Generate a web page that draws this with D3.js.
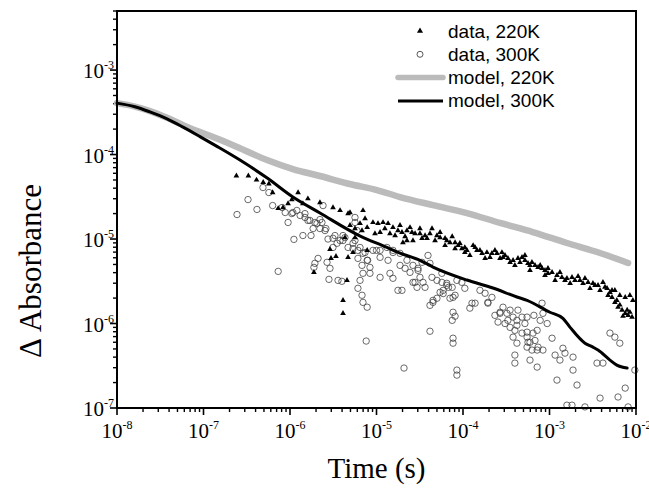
<!DOCTYPE html>
<html>
<head>
<meta charset="utf-8">
<script src="https://cdnjs.cloudflare.com/ajax/libs/d3/7.8.5/d3.min.js"></script>
<style>
  body { margin: 0; background: #fff; }
  svg { display: block; }
</style>
</head>
<body>
<svg id="chart" width="649" height="493"></svg>
<script>
// tick decades
var xTicks = [1e-8, 1e-7, 1e-6, 1e-5, 1e-4, 1e-3, 1e-2];
var yTicks = [1e-7, 1e-6, 1e-5, 1e-4, 1e-3];

// model curves [time, absorbance]
var model220 = [[1e-8,4.06e-4],[1.61e-8,3.7e-4],[2.41e-8,3.27e-4],[3.79e-8,2.72e-4],[5.8e-8,2.23e-4],
  [9.1e-8,1.85e-4],[1.43e-7,1.55e-4],[2.64e-7,1.19e-4],[5.42e-7,8.6e-5],[1.08e-6,6.73e-5],
  [2.22e-6,5.57e-5],[4.9e-6,4.48e-5],[1.01e-5,3.8e-5],[1.87e-5,3.14e-5],[4.5e-5,2.52e-5],
  [1.11e-4,2.03e-5],[2.68e-4,1.55e-5],[6.4e-4,1.21e-5],[1.59e-3,8.97e-6],[3.84e-3,6.83e-6],[8.1e-3,5.2e-6]];

var model300 = [[1e-8,4.06e-4],[1.61e-8,3.68e-4],[2.4e-8,3.2e-4],[3.79e-8,2.65e-4],[5.8e-8,2.11e-4],
  [9.1e-8,1.63e-4],[1.43e-7,1.25e-4],[2.64e-7,8.6e-5],[5.4e-7,5.3e-5],[1.08e-6,3.14e-5],
  [2.22e-6,2.03e-5],[6.4e-6,1.09e-5],[1.32e-5,7.95e-6],[1.87e-5,6.8e-6],[3.18e-5,5.6e-6],
  [4.5e-5,4.66e-6],[1.11e-4,3.27e-6],[2.22e-4,2.63e-6],[4.2e-4,2.06e-6],[5.5e-4,1.88e-6],
  [1.01e-3,1.36e-6],[1.43e-3,1.15e-6],[1.73e-3,9.0e-7],[2.57e-3,5.85e-7],[3.18e-3,5.25e-7],
  [3.64e-3,4.85e-7],[5.0e-3,3.69e-7],[6.0e-3,3.22e-7],[7.9e-3,2.97e-7]];

// measured points, 220K (triangles)
var data220 = [[2.4e-7,5.6e-5],[3.3e-7,5.6e-5],[4.1e-7,5.0e-5],[4.9e-7,4.7e-5],[5.7e-7,4.5e-5],[6.3e-7,3.55e-5],
  [8.3e-7,2.36e-5],[7.3e-7,2.3e-5],[9.5e-7,2.63e-5],[1.05e-6,2.93e-5],[1.24e-6,3.55e-5],[1.41e-6,2.63e-5],
  [1.61e-6,3.0e-5],[2.22e-6,2.7e-5],[3.14e-6,2.36e-5],[3.79e-6,2.18e-5],[4.69e-6,2.0e-5],[4.94e-6,2.06e-5],
  [6.98e-6,2.18e-5],[6.45e-6,1.53e-5],[6.8e-6,1.26e-5],[7.8e-6,1.37e-5],[9.1e-6,1.57e-5],[1.04e-5,1.53e-5],
  [1.19e-5,1.57e-5],[1.36e-5,1.53e-5],[1.55e-5,1.37e-5],[1.77e-5,1.26e-5],[1.97e-5,1.2e-5],[2.25e-5,1.26e-5],
  [2.44e-5,1.37e-5],[2.79e-5,1.16e-5],[3.18e-5,1.16e-5],[3.64e-5,1.1e-5],[4.15e-5,1.16e-5],[5.0e-5,1.1e-5],
  [5.43e-5,1.04e-5],[6.2e-5,1.02e-5],[7.07e-5,9.1e-6],[8.1e-5,9.1e-6],[9.2e-5,8.9e-6],[1.05e-4,7.95e-6],
  [2.02e-5,9.1e-6],[2.25e-5,9.6e-6],[2.64e-5,9.6e-6],[1.43e-5,1.16e-5],[9.6e-6,1.16e-5],[5.64e-6,1.04e-5],
  [5.35e-6,6.93e-6],[7.8e-6,7.34e-6],[4.56e-6,3.24e-6],[4.1e-6,1.88e-6],[4.1e-6,1.32e-6],[2.9e-6,7.54e-6],
  [3.4e-6,6.23e-6],[4.69e-6,6.07e-6],[1.89e-6,4.03e-6],[2.98e-6,5.9e-6],[4.32e-6,1.04e-5],
  [9.7e-5,7.7e-6],[1.11e-4,7.34e-6],[1.31e-4,8.4e-6],[1.45e-4,7.34e-6],[1.66e-4,6.77e-6],[1.89e-4,6.93e-6],
  [2.16e-4,6.77e-6],[2.47e-4,6.77e-6],[2.82e-4,6.93e-6],[2.9e-4,6.07e-6],[3.31e-4,5.9e-6],[3.79e-4,5.6e-6],
  [4.32e-4,5.9e-6],[4.81e-4,6.07e-6],[5.2e-4,5.6e-6],[5.64e-4,5.16e-6],[6.27e-4,5.3e-6],[6.8e-4,4.88e-6],
  [7.37e-4,4.62e-6],[8.2e-4,4.5e-6],[8.87e-4,4.26e-6],[9.6e-4,4.5e-6],[1.07e-3,4.03e-6],[1.22e-3,3.72e-6],
  [1.39e-3,3.52e-6],[1.59e-3,3.43e-6],[1.82e-3,3.52e-6],[1.97e-3,3.24e-6],[2.25e-3,3.24e-6],[2.57e-3,3.43e-6],
  [2.79e-3,3.07e-6],[3.18e-3,2.99e-6],[3.64e-3,2.83e-6],[4.15e-3,3.07e-6],[4.63e-3,2.61e-6],[5.0e-3,2.34e-6],
  [5.28e-3,2.04e-6],[5.7e-3,1.78e-6],[6.2e-3,1.56e-6],[6.9e-3,1.44e-6],[7.5e-3,1.32e-6],[8.1e-3,1.25e-6],
  [9.0e-3,1.19e-6],[6.5e-3,2.16e-6],[7.5e-3,2.04e-6],[8.5e-3,2.16e-6],[9.2e-3,1.88e-6],[1.2e-4,6.4e-6],
  [1.8e-4,5.9e-6],[2.68e-4,5.9e-6],[3.98e-4,4.88e-6],[5.95e-4,4.26e-6],[8.87e-4,3.72e-6],[1.16e-3,3.24e-6],
  [1.73e-3,2.99e-6],[2.94e-3,2.61e-6],[3.84e-3,2.47e-6],[5.7e-3,2.47e-6],[4.75e-3,2.16e-6],[1.64e-5,1.1e-5],
  [3.18e-5,1.33e-5],[4.75e-5,9.6e-6],[6.2e-5,8.4e-6],[8.1e-5,7.7e-6],[1.25e-5,1.33e-5],[1.87e-5,1.45e-5],
  [3.84e-5,1.02e-5],[5.43e-5,1.2e-5],
  [1.05e-4,6.93e-6],[1.38e-4,7.95e-6],[1.57e-4,7.34e-6],[2.05e-4,6.07e-6],[2.34e-4,7.34e-6],[3.06e-4,6.4e-6],
  [3.5e-4,5.3e-6],[4.56e-4,5.3e-6],[5.2e-4,6.4e-6],[5.95e-4,4.88e-6],[7.8e-4,4.88e-6],[9.6e-4,3.93e-6],
  [1.32e-3,4.03e-6],[1.51e-3,3.24e-6],[2.14e-3,3.62e-6],[2.44e-3,2.99e-6],[3.36e-3,2.83e-6],[4.38e-3,2.7e-6],
  [5.28e-3,2.47e-6],[6.0e-3,1.88e-6],[6.5e-3,1.66e-6],[7.9e-3,1.44e-6],[8.5e-3,1.36e-6],[7.07e-3,1.22e-6],
  [1.1e-5,1.2e-5],[2.14e-5,1.07e-5],[2.57e-5,1.2e-5],[3.36e-5,1.02e-5],[4.38e-5,1.33e-5],[6.5e-5,9.6e-6],
  [7.5e-5,1.07e-5],[8.8e-5,8.4e-6],[4.94e-6,1.45e-5],[5.64e-6,1.33e-5],[7.37e-6,1.75e-5]];

// measured points, 300K (open circles)
var data300 = [[2.44e-7,1.95e-5],[3.27e-7,2.93e-5],[4.15e-7,2.24e-5],[4.87e-7,4.07e-5],[5.7e-7,3.55e-5],
  [6.3e-7,2.49e-5],[8.1e-7,2.36e-5],[8.8e-7,2.06e-5],[9.5e-7,1.57e-5],[1.11e-6,9.9e-6],[1.05e-6,2.0e-5],
  [1.2e-6,2.18e-5],[1.31e-6,1.9e-5],[1.41e-6,1.1e-5],[1.49e-6,2.0e-5],[1.61e-6,1.66e-5],[1.75e-6,1.1e-5],
  [1.85e-6,1.33e-5],[2.05e-6,1.53e-5],[2.22e-6,1.7e-5],[2.41e-6,2.49e-5],[2.6e-6,1.33e-5],[2.22e-6,1.33e-5],
  [2.75e-6,1.0e-5],[3.14e-6,7.95e-6],[3.5e-6,8.9e-6],[3.79e-6,9.6e-6],[3.31e-6,1.1e-5],[4.1e-6,1.1e-5],
  [7.3e-7,4.14e-6],[1.94e-6,5.16e-6],[2.11e-6,5.9e-6],[1.89e-6,4.62e-6],[2.68e-6,5.3e-6],[2.9e-6,4.5e-6],
  [2.82e-6,3.33e-6],[3.59e-6,3.24e-6],[3.98e-6,3.16e-6],[2.34e-6,1.57e-5],[1.08e-6,2.06e-5],[1.49e-6,1.8e-5],
  [1.7e-6,1.66e-5],[1.94e-6,1.57e-5],[2.54e-6,1.26e-5],[3.14e-6,1.02e-5],[4.69e-6,7.95e-6],[5.35e-6,7.7e-6],
  [6.1e-6,7.34e-6],[6.98e-6,6.77e-6],[7.8e-6,5.6e-6],[8.4e-6,4.62e-6],[9.1e-6,7.34e-6],[1.1e-5,7.34e-6],
  [1.32e-5,7.95e-6],[1.55e-5,7.34e-6],[1.87e-5,6.77e-6],[2.25e-5,5.6e-6],[2.64e-5,4.88e-6],[3.02e-5,4.5e-6],
  [4.1e-6,9.6e-6],[5.35e-6,8.9e-6],[6.45e-6,7.95e-6],[7.37e-6,6.93e-6],[6.1e-6,5.9e-6],[6.8e-6,4.88e-6],
  [7.9e-6,5.6e-6],[6.98e-6,3.93e-6],[6.45e-6,3.24e-6],[6.1e-6,2.61e-6],[6.8e-6,2.16e-6],[6.98e-6,1.78e-6],
  [7.8e-6,1.56e-6],[1.0e-5,7.34e-6],[1.1e-5,6.07e-6],[1.36e-5,5.6e-6],[1.55e-5,6.93e-6],[1.87e-5,4.88e-6],
  [2.14e-5,4.5e-6],[2.44e-5,4.03e-6],[3.02e-5,4.26e-6],[3.36e-5,5.3e-6],[3.94e-5,6.4e-6],[4.15e-5,5.16e-6],
  [4.38e-5,3.52e-6],[5.0e-5,3.24e-6],[5.7e-5,3.93e-6],[6.5e-5,2.99e-6],[7.5e-5,2.68e-6],[8.1e-5,2.16e-6],
  [7.07e-5,1.99e-6],[5.43e-5,2.34e-6],[4.5e-5,1.78e-6],[4.15e-5,1.64e-6],[8.5e-5,3.24e-6],[9.7e-5,3.07e-6],
  [1.05e-4,2.61e-6],[2.64e-5,3.07e-6],[2.94e-5,2.68e-6],[1.77e-5,2.47e-6],[1.97e-5,2.47e-6],[1.1e-5,3.52e-6],
  [1.43e-5,3.93e-6],[1.55e-5,3.43e-6],[5.64e-6,9.6e-6],[5.95e-6,1.26e-5],[4.32e-6,1.04e-5],[5.64e-6,1.8e-5],
  [5.64e-6,1.57e-5],[7.6e-6,6.2e-7],[2.08e-5,2.97e-7],[4.15e-5,8.1e-7],[7.67e-5,1.36e-6],[8.1e-5,1.22e-6],
  [7.5e-5,1.09e-6],[7.67e-5,6.7e-7],[7.67e-5,5.85e-7],[8.5e-5,2.81e-7],[8.5e-5,2.45e-7],[5.0e-5,1.99e-6],
  [5.9e-5,2.47e-6],[6.5e-5,2.83e-6],[7.67e-5,2.04e-6],[8.4e-6,3.93e-6],[3.45e-5,3.07e-6],[2.79e-5,3.07e-6],
  [3.18e-5,3.52e-6],[3.64e-5,2.68e-6],[4.5e-5,1.88e-6],[5.7e-5,3.07e-6],[5.9e-5,2.26e-6],[6.8e-5,2.68e-6],
  [1.2e-4,1.52e-6],[1.27e-4,1.74e-6],[1.38e-4,1.74e-6],[1.57e-4,2.47e-6],[1.8e-4,2.28e-6],[1.94e-4,1.78e-6],
  [2.16e-4,2.04e-6],[2.34e-4,1.25e-6],[2.68e-4,1.36e-6],[2.9e-4,1.56e-6],[3.22e-4,1.32e-6],[3.5e-4,1.44e-6],
  [3.79e-4,1.19e-6],[4.2e-4,1.09e-6],[3.98e-4,8.3e-7],[4.32e-4,1.44e-6],[4.81e-4,1.19e-6],[5.2e-4,1.0e-6],
  [5.5e-4,7.9e-7],[5.64e-4,6.0e-7],[6.27e-4,4.85e-7],[3.98e-4,4.23e-7],[3.98e-4,3.4e-7],[5.95e-4,3.69e-7],
  [7.2e-4,3.05e-7],[7.2e-4,8.3e-7],[7.8e-4,1.09e-6],[8.4e-4,1.32e-6],[8.2e-4,1.74e-6],[9.4e-4,1.0e-6],
  [1.07e-3,6.7e-7],[1.22e-3,2.14e-7],[1.43e-3,5.1e-7],[1.51e-3,4.46e-7],[1.87e-3,4.0e-7],[1.87e-3,2.81e-7],
  [2.08e-3,1.87e-7],[3.54e-3,3.4e-7],[4.15e-3,3.4e-7],[3.84e-3,1.31e-7],[5.0e-3,7.7e-7],[5.7e-3,6.9e-7],
  [6.5e-3,5.85e-7],[6.2e-3,1.35e-7],[7.5e-3,1.72e-7],[8.1e-3,1.03e-7],[9.7e-3,2.81e-7],[1.59e-3,1.08e-7],
  [1.82e-3,1.08e-7],[2.57e-3,1.03e-7],[1.16e-3,4.23e-7],[1.32e-3,3.69e-7],[3.79e-4,6.9e-7],[4.2e-4,5.85e-7],
  [4.81e-4,7.7e-7],[5.5e-4,6.9e-7],[5.95e-4,6.0e-7],[6.45e-4,7.7e-7],[6.8e-4,6.3e-7],[7.37e-4,5.25e-7],
  [8.4e-4,4.85e-7],[5.5e-4,5.25e-7],[7.2e-4,4.85e-7],[4.2e-4,9.5e-7],[5.5e-4,1.19e-6],[6.6e-4,1.25e-6],
  [2.54e-4,1.04e-6],[3.06e-4,1.0e-6],[3.3e-4,1.09e-6],[3.5e-4,9.0e-7],[1.94e-4,1.74e-6],[2.68e-4,1.32e-6]];

var legendItems = ["data, 220K", "data, 300K", "model, 220K", "model, 300K"];

var margin = {left: 117, right: 13, top: 11, bottom: 85},
    width = 649 - margin.left - margin.right,
    height = 493 - margin.top - margin.bottom;

var svg = d3.select("#chart");
var g = svg.append("g").attr("transform", "translate(" + margin.left + "," + margin.top + ")");

var x = d3.scaleLog().domain([1e-8, 1e-2]).range([0, width]);
var y = d3.scaleLog().domain([1e-7, 5e-3]).range([height, 0]);

// minor ticks: 2..9 in every decade
function minorTicks(lo, hi) {
    var out = [];
    for (var e = Math.floor(Math.log10(lo)); e < Math.ceil(Math.log10(hi)); e++) {
        for (var m = 2; m <= 9; m++) {
            var v = m * Math.pow(10, e);
            if (v > lo && v <= hi * 1.0001) out.push(v);
        }
    }
    return out;
}

var serif = "'Liberation Serif', 'Times New Roman', serif";
var sans = "'Liberation Sans', Arial, sans-serif";

// x axis ticks
g.selectAll(".xminor").data(minorTicks(1e-8, 1e-2)).enter().append("line")
    .attr("x1", function(d) { return x(d); }).attr("x2", function(d) { return x(d); })
    .attr("y1", height).attr("y2", height + 4)
    .attr("stroke", "#000").attr("stroke-width", 1.4);
g.selectAll(".xmajor").data(xTicks).enter().append("line")
    .attr("x1", function(d) { return x(d); }).attr("x2", function(d) { return x(d); })
    .attr("y1", height).attr("y2", height + 7)
    .attr("stroke", "#000").attr("stroke-width", 1.6);

var xl = g.selectAll(".xlab").data(xTicks).enter().append("text")
    .attr("x", function(d) { return x(d); })
    .attr("y", height + 30)
    .attr("text-anchor", "middle")
    .style("font-family", serif).style("font-size", "21px");
xl.append("tspan").text("10");
xl.append("tspan").attr("dy", -9).style("font-size", "12px")
    .text(function(d) { return "-" + Math.round(-Math.log10(d)); });

// y axis ticks
g.selectAll(".yminor").data(minorTicks(1e-7, 5e-3)).enter().append("line")
    .attr("y1", function(d) { return y(d); }).attr("y2", function(d) { return y(d); })
    .attr("x1", 0).attr("x2", -4)
    .attr("stroke", "#000").attr("stroke-width", 1.4);
g.selectAll(".ymajor").data(yTicks).enter().append("line")
    .attr("y1", function(d) { return y(d); }).attr("y2", function(d) { return y(d); })
    .attr("x1", 0).attr("x2", -7)
    .attr("stroke", "#000").attr("stroke-width", 1.6);

var yl = g.selectAll(".ylab").data(yTicks).enter().append("text")
    .attr("x", -3)
    .attr("y", function(d) { return y(d) + 8; })
    .attr("text-anchor", "end")
    .style("font-family", serif).style("font-size", "21px");
yl.append("tspan").text("10");
yl.append("tspan").attr("dy", -9).style("font-size", "12px")
    .text(function(d) { return "-" + Math.round(-Math.log10(d)); });

// data
g.selectAll(".c300").data(data300).enter().append("circle")
    .attr("cx", function(d) { return x(d[0]); })
    .attr("cy", function(d) { return y(d[1]); })
    .attr("r", 3.2)
    .attr("fill", "none").attr("stroke", "#444").attr("stroke-width", 0.8);

var tri = d3.symbol().type(d3.symbolTriangle).size(14);
g.selectAll(".t220").data(data220).enter().append("path")
    .attr("d", tri)
    .attr("transform", function(d) { return "translate(" + x(d[0]) + "," + y(d[1]) + ")"; })
    .attr("fill", "#000");

var line = d3.line()
    .x(function(d) { return x(d[0]); })
    .y(function(d) { return y(d[1]); })
    .curve(d3.curveMonotoneX);

g.append("path").datum(model220).attr("d", line)
    .attr("fill", "none").attr("stroke", "#bbbbbb").attr("stroke-width", 6.5)
    .attr("stroke-linecap", "round");
g.append("path").datum(model300).attr("d", line)
    .attr("fill", "none").attr("stroke", "#000").attr("stroke-width", 3)
    .attr("stroke-linecap", "round");

// frame
g.append("rect").attr("x", 0).attr("y", 0).attr("width", width).attr("height", height)
    .attr("fill", "none").attr("stroke", "#000").attr("stroke-width", 2);

// legend
var leg = svg.append("g").attr("transform", "translate(398,31)");
var rowH = 23.3;
leg.append("path").attr("d", d3.symbol().type(d3.symbolTriangle).size(16))
    .attr("transform", "translate(22,0)").attr("fill", "#000");
leg.append("circle").attr("cx", 22).attr("cy", rowH).attr("r", 3)
    .attr("fill", "none").attr("stroke", "#444").attr("stroke-width", 0.9);
leg.append("line").attr("x1", 0).attr("x2", 45).attr("y1", rowH * 2).attr("y2", rowH * 2)
    .attr("stroke", "#bbbbbb").attr("stroke-width", 5.5).attr("stroke-linecap", "round");
leg.append("line").attr("x1", 0).attr("x2", 45).attr("y1", rowH * 3).attr("y2", rowH * 3)
    .attr("stroke", "#000").attr("stroke-width", 3);
leg.selectAll(".lt").data(legendItems).enter().append("text")
    .attr("x", 50)
    .attr("y", function(d, i) { return i * rowH + 6.5; })
    .style("font-family", sans).style("font-size", "19px")
    .text(function(d) { return d; });

// axis titles
svg.append("text")
    .attr("x", margin.left + width / 2).attr("y", 478)
    .attr("text-anchor", "middle")
    .style("font-family", serif).style("font-size", "29px")
    .text("Time (s)");
svg.append("text")
    .attr("transform", "translate(41,271) rotate(-90)")
    .attr("text-anchor", "middle")
    .style("font-family", serif).style("font-size", "31px")
    .text("Δ Absorbance");
</script>
</body>
</html>
